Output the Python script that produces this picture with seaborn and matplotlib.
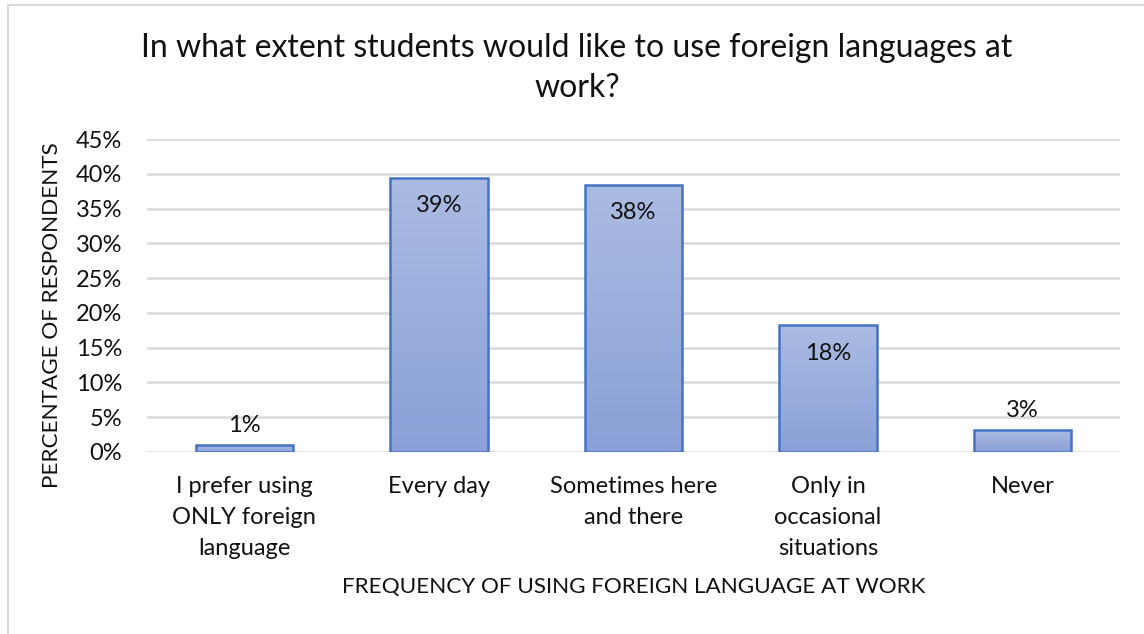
import numpy as np
import pandas as pd
import matplotlib
matplotlib.use("Agg")
import matplotlib.pyplot as plt
import seaborn as sns
from matplotlib.patches import Rectangle
from matplotlib.colors import LinearSegmentedColormap

categories = [
    "I prefer using\nONLY foreign\nlanguage",
    "Every day",
    "Sometimes here\nand there",
    "Only in\noccasional\nsituations",
    "Never",
]
shares = [1.0, 39.4, 38.4, 18.2, 3.1]
yticks = [0, 5, 10, 15, 20, 25, 30, 35, 40, 45]

title = "In what extent students would like to use foreign languages at\nwork?"
xlabel = "FREQUENCY OF USING FOREIGN LANGUAGE AT WORK"
ylabel = "PERCENTAGE OF RESPONDENTS"

sns.set_theme(style="white")
plt.rcParams["font.family"] = ["Lato", "DejaVu Sans"]

df = pd.DataFrame({"category": categories, "share": shares})

W, H = 1144, 634
fig = plt.figure(figsize=(W / 100, H / 100), dpi=100)
ax = fig.add_axes([147 / W, 1 - 452 / H, (1120 - 147) / W, (452 - 139) / H])

sns.barplot(data=df, x="category", y="share", ax=ax, width=0.5,
            color="#9aaedc", edgecolor="#4472c4", linewidth=1.8,
            saturation=1)

ax.set_ylim(0, 45)
ax.set_xlim(-0.5, len(categories) - 0.5)
ax.set_yticks(yticks)
ax.set_yticklabels([f"{t}%" for t in yticks], fontsize=17, color="#111111")
ax.yaxis.grid(True, color="#d9d9d9", linewidth=1.8)
ax.set_axisbelow(True)
for s in ax.spines.values():
    s.set_visible(False)
ax.tick_params(axis="y", length=0, pad=18)
ax.tick_params(axis="x", length=0, pad=17)
ax.set_xticks(range(len(categories)))
ax.set_xticklabels(categories, fontsize=17, color="#111111", linespacing=1.6)
ax.set_xlabel(xlabel, fontsize=16.2, color="#111111")
ax.set_ylabel(ylabel, fontsize=16.2, color="#111111")
ax.xaxis.set_label_coords(0.5, (452 - 587) / 313)
ax.xaxis.label.set_verticalalignment("center")
ax.yaxis.set_label_coords((52 - 147) / 973, (452 - 315) / 313)
ax.yaxis.label.set_verticalalignment("center")

# vertical gradient fill inside each bar
cmap = LinearSegmentedColormap.from_list("barfill", ["#8aa1d8", "#abbbe2"])
grad = np.linspace(0, 1, 256).reshape(-1, 1)
for p in ax.patches:
    x0, y0 = p.get_x(), p.get_y()
    w, h = p.get_width(), p.get_height()
    p.set_facecolor("none")
    im = ax.imshow(grad, cmap=cmap, origin="lower", aspect="auto",
                   extent=(x0, x0 + w, y0, y0 + h), zorder=p.get_zorder() - 0.1)
    im.set_clip_path(p)
ax.set_xlim(-0.5, len(categories) - 0.5)
ax.set_ylim(0, 45)

# value labels: inside the top of tall bars, above short ones
for i, v in enumerate(shares):
    label = f"{v:.0f}%"
    if v > 10:
        ax.text(i, v - 4.0, label, ha="center", va="center", fontsize=17, color="#111111")
    else:
        ax.text(i, v + 2.8, label, ha="center", va="center", fontsize=17, color="#111111")

fig.text(577 / W, 1 - 68 / H, title, ha="center", va="center", fontsize=23,
         color="#111111", linespacing=1.38)

# chart frame
fig.patches.append(Rectangle((8 / W, -0.1), 1.2, 1 - 5 / H + 0.1,
                             transform=fig.transFigure, fill=False,
                             edgecolor="#d9d9d9", linewidth=1.5))

fig.savefig("out.png", dpi=100)
